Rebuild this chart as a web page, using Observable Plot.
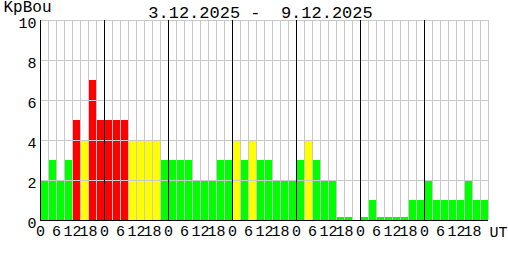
<!DOCTYPE html>
<html><head><meta charset="utf-8">
<script src="https://cdn.jsdelivr.net/npm/d3@7"></script>
<script src="https://cdn.jsdelivr.net/npm/@observablehq/plot@0.6"></script>
<style>body{margin:0;background:#fff}</style>
</head><body><div id="chart"></div>
<script>
// 3-hour Kp values, 3.12.2025 00 UT .. 9.12.2025 24 UT (null = missing)
const kp = [2,3,2,3,5,4,7,5, 5,5,5,4,4,4,4,3, 3,3,3,2,2,2,3,3, 4,3,4,3,3,2,2,2,
            3,4,3,2,2,0.15,0.15,null, 0.15,1,0.15,0.15,0.15,0.15,1,1, 2,1,1,1,1,2,1,1];
const startDate = "3.12.2025";
const endDate = "9.12.2025";
const yLabel = "KpBou";
const unitLabel = "UT";
const yTicks = [0,2,4,6,8,10];
const xTickHours = d3.range(0, 168, 6);
const gridHours = d3.range(0, 169, 3);
const dayHours = d3.range(24, 168, 24);

const bars = kp.map((v, i) => ({start: i*3, end: i*3+3, kp: v})).filter(d => d.kp != null);
const title = startDate + " -\u00a0\u00a0" + endDate;

const chart = Plot.plot({
  width: 508, height: 260,
  marginLeft: 40, marginRight: 20, marginTop: 20, marginBottom: 40,
  x: {domain: [0, 168], axis: null, label: null},
  y: {domain: [0, 10], axis: null, label: null},
  color: {type: "threshold", domain: [4, 5], range: ["#00ff00", "#ffff00", "#ff0000"]},
  style: {fontFamily: "'Liberation Mono', monospace", fontSize: "15px", color: "black", background: "white", overflow: "visible"},
  marks: [
    Plot.rectY(bars, {x1: "start", x2: "end", y1: 0, y2: "kp", fill: "kp"}),
    Plot.ruleX(gridHours, {stroke: "#c8c8c8"}),
    Plot.ruleY(yTicks, {stroke: "#c8c8c8"}),
    Plot.ruleX(dayHours, {stroke: "black"}),
    Plot.ruleX([0], {stroke: "black"}),
    Plot.ruleY([0], {stroke: "black"}),
    Plot.axisY({ticks: yTicks, label: null, tickSize: 0, tickPadding: 4, fontSize: 15, dy: 3}),
    Plot.axisX({ticks: xTickHours, label: null, tickSize: 0, tickPadding: 5, tickFormat: d => String(d % 24), fontSize: 15}),
    Plot.text([title], {text: d => d, frameAnchor: "top", textAnchor: "middle", lineAnchor: "middle", dx: -4, dy: -8.4, fontSize: 17}),
    Plot.text([yLabel], {text: d => d, frameAnchor: "top-left", textAnchor: "start", lineAnchor: "middle", dx: -37, dy: -13.5, fontSize: 16}),
    Plot.text([unitLabel], {text: d => d, frameAnchor: "bottom-right", textAnchor: "middle", lineAnchor: "middle", dx: 10, dy: 11.2, fontSize: 15})
  ]
});
document.getElementById("chart").append(chart);
</script>
</body></html>
